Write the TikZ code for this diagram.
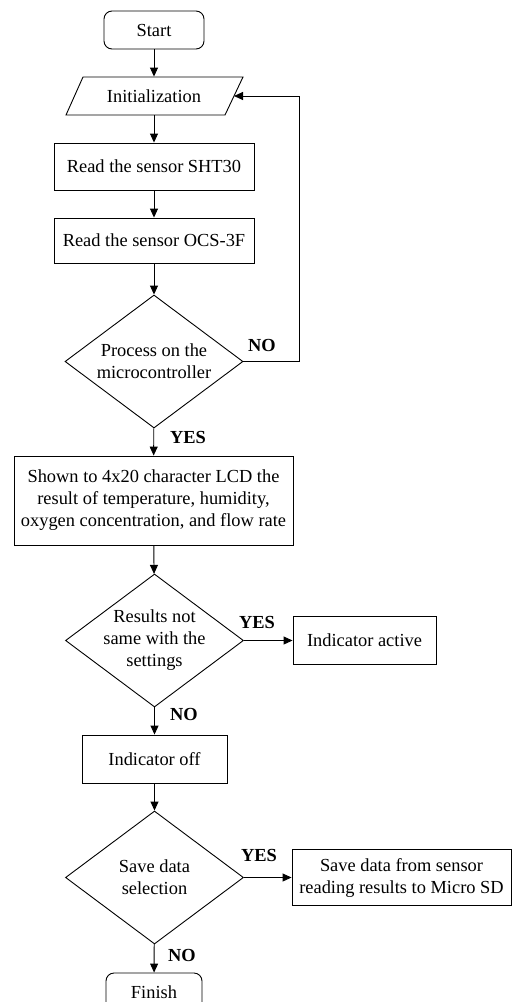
\documentclass[tikz,border=0pt]{standalone}
\usepackage{fontspec}
\setmainfont{Liberation Serif}
\usetikzlibrary{arrows.meta,shapes.geometric}
\begin{document}
\begin{tikzpicture}[x=1pt,y=-1pt,
  font=\fontsize{18.4}{22}\selectfont,
  line width=0.9pt,
  box/.style={draw, rectangle, inner sep=0pt, align=center},
  term/.style={box, rounded corners=8pt},
  dia/.style={draw, diamond, inner sep=0pt, minimum width=178pt, minimum height=133pt},
  txt/.style={align=center, inner sep=0pt},
  arr/.style={-{Triangle[length=9pt,width=8pt]}},
  lab/.style={font=\fontsize{18.4}{22}\selectfont\bfseries, inner sep=0pt}]
\useasboundingbox (0,0) rectangle (515,1002);
\clip (0,0) rectangle (515,1002);

% nodes
\node[term, minimum width=100pt, minimum height=38pt] (start) at (154,30) {Start};
\node[txt, minimum width=150pt, minimum height=38pt] (init) at (154,96) {Initialization};
\draw (83,77) -- (243,77) -- (225,115) -- (66,115) -- cycle;
\coordinate (initR) at (234,96);
\node[box, minimum width=200pt, minimum height=47pt] (sht) at (154,166.5) {Read the sensor SHT30};
\node[box, minimum width=200pt, minimum height=45pt] (ocs) at (154,240.5) {Read the sensor OCS-3F};
\node[dia] (d1) at (154,361.5) {};
\node[txt] (d1t) at (d1) {Process on the\\microcontroller};
\node[box, minimum width=279pt, minimum height=89pt] (lcd) at (153.5,500.5) {Shown to 4x20 character LCD the\\result of temperature, humidity,\\oxygen concentration, and flow rate};
\node[dia] (d2) at (154.5,640.5) {};
\node[txt] (d2t) at (d2) {Results not\\same with the\\settings};
\node[box, minimum width=143pt, minimum height=48pt] (act) at (364.5,640.5) {Indicator active};
\node[box, minimum width=145pt, minimum height=48pt] (off) at (154.5,759) {Indicator off};
\node[dia] (d3) at (154.5,877.5) {};
\node[txt] (d3t) at (d3) {Save data\\selection};
\node[box, minimum width=219pt, minimum height=56pt] (sd) at (401.5,877.5) {Save data from sensor\\reading results to Micro SD};
\node[term, minimum width=96pt, minimum height=38pt] (fin) at (154,992) {Finish};

% connectors
\draw[arr] (start) -- (init);
\draw[arr] (init) -- (sht);
\draw[arr] (sht) -- (ocs);
\draw[arr] (ocs) -- (d1);
\coordinate (fb) at (299,0);
\draw[arr] (d1.east) -- (d1.east -| fb) |- (initR);
\draw[arr] (d1) -- (lcd);
\draw[arr] (lcd) -- (d2);
\draw[arr] (d2) -- (act);
\draw[arr] (d2) -- (off);
\draw[arr] (off) -- (d3);
\draw[arr] (d3) -- (sd);
\draw[arr] (d3) -- (fin);

% labels
\node[lab] (no1) at (262,345) {NO};
\node[lab] (yes1) at (188,437) {YES};
\node[lab] (yes2) at (257,622) {YES};
\node[lab] (no2) at (184,714) {NO};
\node[lab] (yes3) at (259,855) {YES};
\node[lab] (no3) at (182,955) {NO};
\end{tikzpicture}
\end{document}
